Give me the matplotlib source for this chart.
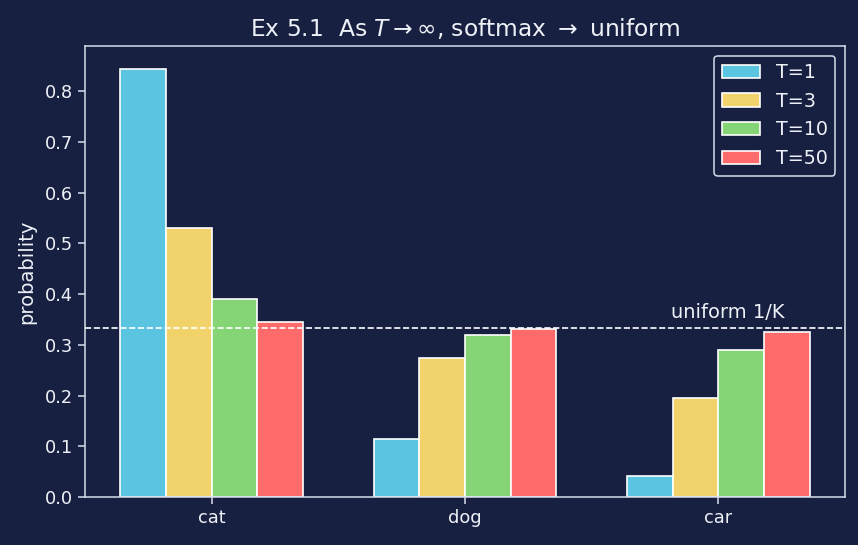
import matplotlib
matplotlib.use("Agg")
import matplotlib.pyplot as plt
import numpy as np

categories = ["cat", "dog", "car"]
temps = ["T=1", "T=3", "T=10", "T=50"]
probs_T1 = [0.844, 0.114, 0.042]
probs_T3 = [0.531, 0.273, 0.196]
probs_T10 = [0.391, 0.320, 0.289]
probs_T50 = [0.3445, 0.331, 0.3245]
uniform_level = 1 / 3

series = [probs_T1, probs_T3, probs_T10, probs_T50]
colors = ["#5bc4e0", "#f2d36b", "#85d475", "#ff6b6b"]

bg = "#172041"
fg = "#eef1f7"
spine = "#d6dcea"

fig = plt.figure(figsize=(8.58, 5.45), dpi=100, facecolor=bg)
ax = fig.add_axes([85/858, 1-497/545, 760/858, 451/545], facecolor=bg)

x = np.arange(len(categories))
w = 0.18
for i, (vals, lab, c) in enumerate(zip(series, temps, colors)):
    ax.bar(x + (i - 1.5) * w, vals, w, color=c, edgecolor="white", linewidth=1.2, label=lab, zorder=2)

ax.axhline(uniform_level, color="white", linestyle="--", linewidth=1.2, zorder=3)
ax.text(2.26, uniform_level + 0.012, "uniform 1/K", color=fg, fontsize=14, ha="right", va="bottom")

ax.set_xlim(-0.5, 2.5)
ax.set_ylim(0, 0.8887)
ax.set_xticks(x)
ax.set_xticklabels(categories)
ax.set_yticks(np.arange(0, 0.81, 0.1))
ax.yaxis.set_major_formatter(matplotlib.ticker.FormatStrFormatter("%.1f"))
ax.tick_params(colors=spine, labelcolor=fg, labelsize=12.8, length=5, width=1.1)
for s in ax.spines.values():
    s.set_color(spine)
    s.set_linewidth(1.1)
ax.set_ylabel("probability", color=fg, fontsize=14, labelpad=6)
ax.set_title(r"Ex 5.1  As $T \to \infty$, softmax $\to$ uniform", color=fg, fontsize=16.8, pad=7)

leg = ax.legend(loc="upper right", fontsize=13.8, facecolor=bg, edgecolor=spine, labelcolor=fg, framealpha=1)
leg.get_frame().set_linewidth(1.1)

fig.savefig("out.png", dpi=100, facecolor=bg)
